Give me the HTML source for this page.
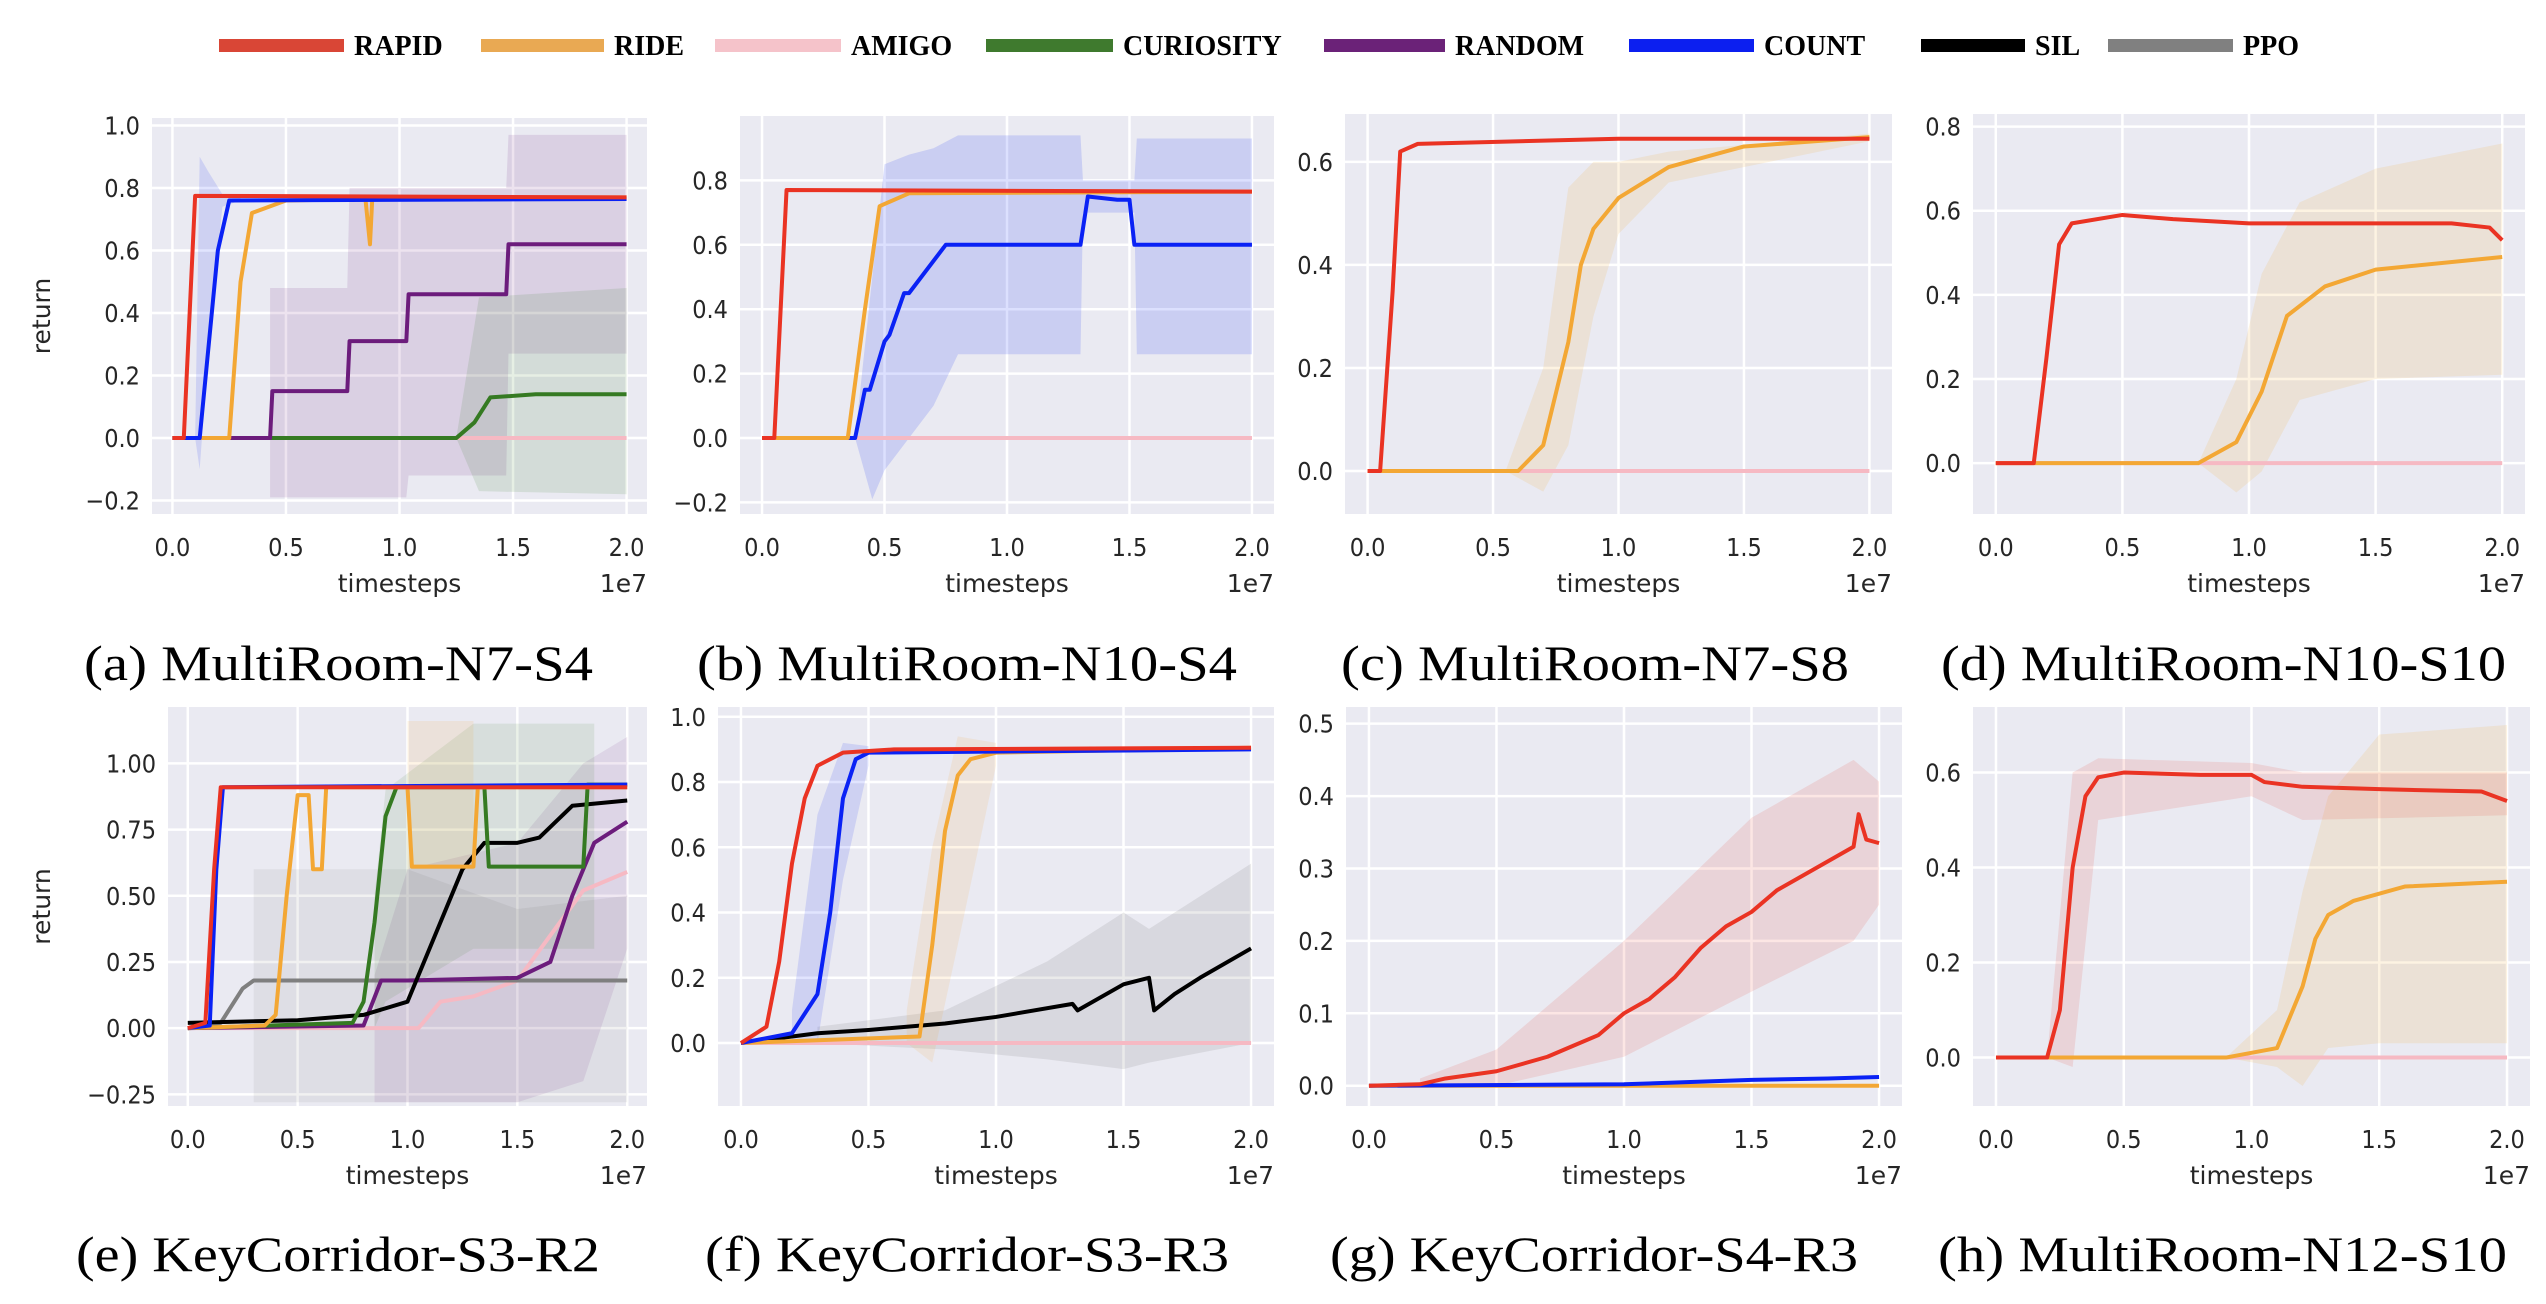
<!DOCTYPE html>
<html><head><meta charset="utf-8">
<style>
html,body{margin:0;padding:0;background:#fff;}
svg{display:block;}
.tick{font-family:"DejaVu Sans Condensed","DejaVu Sans",sans-serif;font-size:25px;fill:#262626;}
.lab{font-family:"DejaVu Sans","Liberation Sans",sans-serif;font-size:25px;fill:#262626;}
.cap{font-family:"Liberation Serif",serif;font-size:50px;fill:#000;}
.leg{font-family:"Liberation Serif",serif;font-size:28px;font-weight:bold;fill:#000;}
</style></head>
<body>
<svg id="fig" width="2546" height="1304" viewBox="0 0 2546 1304" xmlns="http://www.w3.org/2000/svg">
<g id="legend"></g>
</svg>
<script>
// ---------- data (x in units of 1e7 timesteps, y = return) ----------
const legendNames = ["RAPID","RIDE","AMIGO","CURIOSITY","RANDOM","COUNT","SIL","PPO"];
const legendColors = ["#d94636","#e9a953","#f5c3ca","#3f7a2e","#6b2278","#0c1ff0","#000000","#808080"];

// panel a
const a_rapid = [[0,0],[0.05,0],[0.1,0.775],[2.0,0.77]];
const a_count = [[0,0],[0.12,0],[0.2,0.6],[0.25,0.76],[2.0,0.765]];
const a_ride = [[0,0],[0.25,0],[0.3,0.5],[0.35,0.72],[0.5,0.76],[0.85,0.765],[0.87,0.62],[0.88,0.765],[0.9,0.77],[2.0,0.77]];
const a_random = [[0,0],[0.43,0],[0.44,0.15],[0.77,0.15],[0.78,0.31],[1.03,0.31],[1.04,0.46],[1.47,0.46],[1.48,0.62],[2.0,0.62]];
const a_curiosity = [[0,0],[1.25,0],[1.33,0.05],[1.4,0.13],[1.6,0.14],[2.0,0.14]];
const a_amigo = [[0,0],[2.0,0]];
const a_random_band = [[0.43,-0.19,0.48],[0.77,-0.19,0.48],[0.78,-0.19,0.8],[1.03,-0.19,0.8],[1.04,-0.12,0.8],[1.47,-0.12,0.8],[1.48,0.27,0.97],[2.0,0.27,0.97]];
const a_curiosity_band = [[1.25,0,0],[1.35,-0.17,0.45],[2.0,-0.18,0.48]];
const a_count_band = [[0.1,0,0],[0.12,-0.1,0.9],[0.16,0.3,0.85],[0.22,0.74,0.78],[0.3,0.76,0.77]];

// panel b
const b_rapid = [[0,0],[0.05,0],[0.1,0.77],[2.0,0.765]];
const b_ride = [[0,0],[0.35,0],[0.42,0.4],[0.48,0.72],[0.6,0.76],[2.0,0.765]];
const b_count = [[0,0],[0.38,0],[0.42,0.15],[0.44,0.15],[0.5,0.3],[0.52,0.32],[0.58,0.45],[0.6,0.45],[0.75,0.6],[0.78,0.6],[1.3,0.6],[1.33,0.75],[1.45,0.74],[1.5,0.74],[1.52,0.6],[2.0,0.6]];
const b_amigo = [[0,0],[2.0,0]];
const b_count_band = [[0.38,0,0],[0.45,-0.19,0.5],[0.5,-0.1,0.85],[0.6,0,0.88],[0.7,0.1,0.9],[0.8,0.26,0.94],[1.3,0.26,0.94],[1.31,0.7,0.8],[1.52,0.7,0.8],[1.53,0.26,0.93],[2.0,0.26,0.93]];

// panel c
const c_rapid = [[0,0],[0.05,0],[0.1,0.35],[0.13,0.62],[0.2,0.635],[1.0,0.645],[2.0,0.645]];
const c_ride = [[0,0],[0.6,0],[0.7,0.05],[0.8,0.25],[0.85,0.4],[0.9,0.47],[1.0,0.53],[1.2,0.59],[1.5,0.63],[2.0,0.648]];
const c_amigo = [[0,0],[2.0,0]];
const c_ride_band = [[0.55,0,0],[0.7,-0.04,0.2],[0.8,0.05,0.55],[0.9,0.3,0.6],[1.0,0.46,0.6],[1.2,0.56,0.62],[2.0,0.64,0.655]];

// panel d
const d_rapid = [[0,0],[0.15,0],[0.2,0.25],[0.25,0.52],[0.3,0.57],[0.5,0.59],[0.7,0.58],[1.0,0.57],[1.5,0.57],[1.8,0.57],[1.95,0.56],[2.0,0.53]];
const d_ride = [[0,0],[0.8,0],[0.95,0.05],[1.05,0.17],[1.15,0.35],[1.3,0.42],[1.5,0.46],[2.0,0.49]];
const d_amigo = [[0,0],[2.0,0]];
const d_ride_band = [[0.8,0,0],[0.95,-0.07,0.2],[1.05,-0.02,0.45],[1.2,0.15,0.62],[1.5,0.2,0.7],[2.0,0.21,0.76]];

// panel e
const e_rapid = [[0,0],[0.08,0.02],[0.12,0.6],[0.15,0.91],[2.0,0.91]];
const e_count = [[0,0],[0.1,0.01],[0.13,0.6],[0.16,0.91],[2.0,0.92]];
const e_ride = [[0,0],[0.35,0.01],[0.4,0.05],[0.45,0.5],[0.5,0.88],[0.55,0.88],[0.57,0.6],[0.61,0.6],[0.63,0.91],[1.0,0.91],[1.02,0.61],[1.3,0.61],[1.32,0.91],[2.0,0.91]];
const e_curiosity = [[0,0],[0.75,0.02],[0.8,0.1],[0.85,0.4],[0.9,0.8],[0.95,0.91],[1.35,0.91],[1.37,0.61],[1.8,0.61],[1.82,0.92],[2.0,0.92]];
const e_ppo = [[0,0],[0.15,0.02],[0.25,0.15],[0.3,0.18],[2.0,0.18]];
const e_sil = [[0,0.02],[0.5,0.03],[0.8,0.05],[1.0,0.1],[1.05,0.2],[1.15,0.4],[1.25,0.6],[1.35,0.7],[1.5,0.7],[1.6,0.72],[1.75,0.84],[2.0,0.86]];
const e_random = [[0,0],[0.8,0.01],[0.88,0.18],[1.0,0.18],[1.5,0.19],[1.65,0.25],[1.75,0.5],[1.85,0.7],[2.0,0.78]];
const e_amigo = [[0,0],[1.05,0],[1.15,0.1],[1.3,0.12],[1.5,0.18],[1.65,0.35],[1.8,0.52],[2.0,0.59]];
const e_gray_band = [[0.3,-0.28,0.6],[1.0,-0.28,0.6],[1.5,-0.28,0.45],[2.0,-0.28,0.5]];
const e_random_band = [[0.85,-0.28,0.2],[1.0,-0.28,0.6],[1.5,-0.28,0.7],[1.8,-0.2,1.0],[2.0,0.3,1.1]];
const e_green_band = [[0.85,0,0.5],[0.9,0.1,0.9],[1.3,0.3,1.15],[1.85,0.3,1.15]];
const e_orange_band = [[1.0,0.6,1.16],[1.3,0.6,1.16]];

// panel f
const f_rapid = [[0,0],[0.1,0.05],[0.15,0.25],[0.2,0.55],[0.25,0.75],[0.3,0.85],[0.4,0.89],[0.6,0.9],[2.0,0.905]];
const f_count = [[0,0],[0.2,0.03],[0.3,0.15],[0.35,0.4],[0.4,0.75],[0.45,0.87],[0.5,0.89],[2.0,0.9]];
const f_ride = [[0,0],[0.7,0.02],[0.75,0.3],[0.8,0.65],[0.85,0.82],[0.9,0.87],[1.0,0.89],[2.0,0.905]];
const f_sil = [[0,0],[0.3,0.03],[0.5,0.04],[0.8,0.06],[1.0,0.08],[1.3,0.12],[1.32,0.1],[1.5,0.18],[1.6,0.2],[1.62,0.1],[1.7,0.15],[1.8,0.2],[2.0,0.29]];
const f_amigo = [[0,0],[2.0,0]];
const f_sil_band = [[0.3,0,0.05],[0.8,-0.02,0.1],[1.2,-0.05,0.25],[1.5,-0.08,0.4],[1.6,-0.06,0.35],[2.0,0,0.55]];
const f_ride_band = [[0.65,0,0.1],[0.75,-0.06,0.6],[0.85,0.3,0.94],[1.0,0.85,0.92]];
const f_count_band = [[0.2,0,0.1],[0.3,0,0.7],[0.4,0.5,0.92],[0.5,0.85,0.91]];

// panel g
const g_rapid = [[0,0],[0.2,0.002],[0.3,0.01],[0.5,0.02],[0.7,0.04],[0.8,0.055],[0.9,0.07],[1.0,0.1],[1.1,0.12],[1.2,0.15],[1.3,0.19],[1.4,0.22],[1.5,0.24],[1.6,0.27],[1.7,0.29],[1.8,0.31],[1.9,0.33],[1.92,0.375],[1.95,0.34],[2.0,0.335]];
const g_count = [[0,0],[1.0,0.002],[1.5,0.008],[1.8,0.01],[2.0,0.012]];
const g_ride = [[0,0],[2.0,0]];
const g_rapid_band = [[0.2,0,0.01],[0.5,0,0.05],[1.0,0.04,0.2],[1.5,0.13,0.37],[1.9,0.2,0.45],[2.0,0.25,0.42]];

// panel h
const h_rapid = [[0,0],[0.2,0],[0.25,0.1],[0.3,0.4],[0.35,0.55],[0.4,0.59],[0.5,0.6],[0.8,0.595],[1.0,0.595],[1.05,0.58],[1.2,0.57],[1.5,0.565],[1.9,0.56],[2.0,0.54]];
const h_ride = [[0,0],[0.9,0],[1.1,0.02],[1.2,0.15],[1.25,0.25],[1.3,0.3],[1.4,0.33],[1.6,0.36],[2.0,0.37]];
const h_amigo = [[0,0],[2.0,0]];
const h_rapid_band = [[0.2,0,0],[0.3,-0.02,0.6],[0.4,0.5,0.63],[1.0,0.55,0.62],[1.2,0.5,0.6],[2.0,0.51,0.6]];
const h_ride_band = [[0.9,0,0],[1.1,-0.02,0.1],[1.2,-0.06,0.35],[1.3,0.02,0.55],[1.5,0.03,0.68],[2.0,0.03,0.7]];

// ---------- rendering ----------
const NS = "http://www.w3.org/2000/svg";
const svg = document.getElementById("fig");
function mk(tag, attrs, parent){ const e=document.createElementNS(NS,tag); for(const k in attrs) e.setAttribute(k,attrs[k]); parent.appendChild(e); return e; }

const C = {rapid:"#ea3323",ride:"#f3a734",amigo:"#f6b9c3",curiosity:"#357a22",random:"#6c1c7c",count:"#0a22f5",sil:"#000000",ppo:"#7f7f7f"};

// legend
const legG = document.getElementById("legend");
const legSw = [219,481,715,986,1324,1629,1921,2108];
const legW = [125,123,126,127,121,125,104,125];
legendNames.forEach((n,i)=>{
  const r = mk("rect",{x:legSw[i],y:39,width:legW[i],height:13,fill:legendColors[i]},legG);
  
  
  const t = mk("text",{x:legSw[i]+legW[i]+10,y:55,class:"leg"},legG);
  t.textContent=n;
  
  
});

function panel(id, box, ylim, yticks, ydec, caption, capBox, showYLabel, bands, lines){
  const [px0,px1,py0,py1] = box;
  const xlim=[-0.09,2.09];
  const X = v => px0 + (v-xlim[0])/(xlim[1]-xlim[0])*(px1-px0);
  const Y = v => py1 - (v-ylim[0])/(ylim[1]-ylim[0])*(py1-py0);
  const g = mk("g",{},svg);
  
  
  const bg = mk("rect",{x:px0,y:py0,width:px1-px0,height:py1-py0,fill:"#eaeaf2"},g);
  
  
  const clipId = "clip"+id;
  const cp = mk("clipPath",{id:clipId},g);
  mk("rect",{x:px0,y:py0,width:px1-px0,height:py1-py0},cp);
  [0,0.5,1.0,1.5,2.0].forEach(v=>{
    const l = mk("line",{x1:X(v),x2:X(v),y1:py0,y2:py1,stroke:"#fff","stroke-width":2.5},g);
    
    
    const t = mk("text",{x:X(v),y:py1+42,class:"tick","text-anchor":"middle"},g);
    t.textContent=v.toFixed(1);
    
    
  });
  yticks.forEach(v=>{
    const l = mk("line",{x1:px0,x2:px1,y1:Y(v),y2:Y(v),stroke:"#fff","stroke-width":2.5},g);
    
    
    const t = mk("text",{x:px0-12,y:Y(v)+9,class:"tick","text-anchor":"end"},g);
    t.textContent=(v<0?"\u2212":"")+Math.abs(v).toFixed(ydec);
    
    
  });
  const pg = mk("g",{"clip-path":"url(#"+clipId+")"},g);
  bands.forEach(([data,col,op])=>{
    const up = data.map(d=>X(d[0])+","+Y(d[2]));
    const lo = data.slice().reverse().map(d=>X(d[0])+","+Y(d[1]));
    const p = mk("polygon",{points:up.concat(lo).join(" "),fill:col,"fill-opacity":op},pg);
    
    
  });
  lines.forEach(([data,col,name])=>{
    const p = mk("polyline",{points:data.map(d=>X(d[0])+","+Y(d[1])).join(" "),fill:"none",stroke:col,"stroke-width":4,"stroke-linejoin":"round"},pg);
    
    
  });
  const xl = mk("text",{x:(X(0)+X(2))/2,y:py1+78,class:"lab","text-anchor":"middle"},g);
  xl.textContent="timesteps";
  
  
  const ex = mk("text",{x:px1,y:py1+78,class:"lab","text-anchor":"end"},g);
  ex.textContent="1e7";
  
  
  if(showYLabel){
    const yl = mk("text",{x:0,y:0,class:"lab","text-anchor":"middle",transform:"translate(50,"+((py0+py1)/2)+") rotate(-90)"},g);
    yl.textContent="return";
    
    
  }
  const cap = mk("text",{x:capBox[0],y:capBox[2],class:"cap",textLength:capBox[1]-capBox[0],lengthAdjust:"spacingAndGlyphs"},g);
  cap.textContent=caption;
  
  
}

const TOP=[118,514], BOT=[707,1106];
panel("a",[152,647,TOP[0],TOP[1]],[-0.243,1.024],[-0.2,0,0.2,0.4,0.6,0.8,1.0],1,"(a) MultiRoom-N7-S4",[84,593,680],true,
  [[a_random_band,C.random,0.12],[a_curiosity_band,C.curiosity,0.12],[a_count_band,C.count,0.12]],
  [[a_amigo,C.amigo,"amigo"],[a_curiosity,C.curiosity,"curiosity"],[a_random,C.random,"random"],[a_ride,C.ride,"ride"],[a_count,C.count,"count"],[a_rapid,C.rapid,"rapid"]]);
panel("b",[740,1274,116,TOP[1]],[-0.236,1.0],[-0.2,0,0.2,0.4,0.6,0.8],1,"(b) MultiRoom-N10-S4",[697,1237,680],false,
  [[b_count_band,C.count,0.14]],
  [[b_amigo,C.amigo,"amigo"],[b_count,C.count,"count"],[b_ride,C.ride,"ride"],[b_rapid,C.rapid,"rapid"]]);
panel("c",[1345,1892,114,514],[-0.0835,0.693],[0,0.2,0.4,0.6],1,"(c) MultiRoom-N7-S8",[1341,1849,680],false,
  [[c_ride_band,C.ride,0.14]],
  [[c_amigo,C.amigo,"amigo"],[c_ride,C.ride,"ride"],[c_rapid,C.rapid,"rapid"]]);
panel("d",[1973,2525,114,514],[-0.121,0.83],[0,0.2,0.4,0.6,0.8],1,"(d) MultiRoom-N10-S10",[1941,2506,680],false,
  [[d_ride_band,C.ride,0.14]],
  [[d_amigo,C.amigo,"amigo"],[d_ride,C.ride,"ride"],[d_rapid,C.rapid,"rapid"]]);
panel("e",[168,647,BOT[0],BOT[1]],[-0.294,1.213],[-0.25,0,0.25,0.5,0.75,1.0],2,"(e) KeyCorridor-S3-R2",[76,600,1271],true,
  [[e_gray_band,"#888",0.12],[e_random_band,C.random,0.1],[e_green_band,C.curiosity,0.1],[e_orange_band,C.ride,0.12]],
  [[e_amigo,C.amigo,"amigo"],[e_ppo,C.ppo,"ppo"],[e_random,C.random,"random"],[e_sil,C.sil,"sil"],[e_curiosity,C.curiosity,"curiosity"],[e_ride,C.ride,"ride"],[e_count,C.count,"count"],[e_rapid,C.rapid,"rapid"]]);
panel("f",[718,1274,BOT[0],BOT[1]],[-0.193,1.03],[0,0.2,0.4,0.6,0.8,1.0],1,"(f) KeyCorridor-S3-R3",[705,1229,1271],false,
  [[f_sil_band,"#888",0.18],[f_ride_band,C.ride,0.12],[f_count_band,C.count,0.12]],
  [[f_amigo,C.amigo,"amigo"],[f_sil,C.sil,"sil"],[f_ride,C.ride,"ride"],[f_count,C.count,"count"],[f_rapid,C.rapid,"rapid"]]);
panel("g",[1346,1902,BOT[0],BOT[1]],[-0.028,0.523],[0,0.1,0.2,0.3,0.4,0.5],1,"(g) KeyCorridor-S4-R3",[1330,1858,1271],false,
  [[g_rapid_band,C.rapid,0.12]],
  [[g_ride,C.ride,"ride"],[g_count,C.count,"count"],[g_rapid,C.rapid,"rapid"]]);
panel("h",[1973,2530,BOT[0],BOT[1]],[-0.102,0.738],[0,0.2,0.4,0.6],1,"(h) MultiRoom-N12-S10",[1938,2507,1271],false,
  [[h_ride_band,C.ride,0.14],[h_rapid_band,C.rapid,0.12]],
  [[h_amigo,C.amigo,"amigo"],[h_ride,C.ride,"ride"],[h_rapid,C.rapid,"rapid"]]);
</script>
</body></html>
